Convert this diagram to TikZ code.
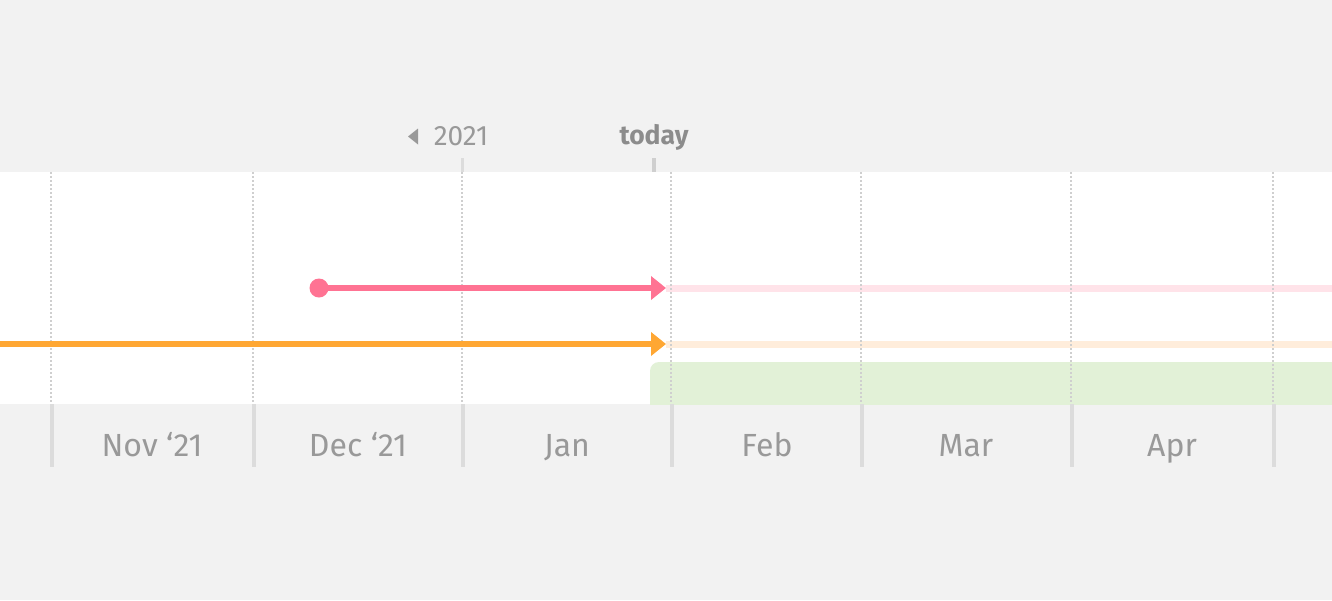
\documentclass[tikz,border=0pt]{standalone}
\usepackage{fontspec}
\setmainfont{Fira Sans}
\usepackage{tikz}
\usetikzlibrary{arrows.meta}
\usetikzlibrary{positioning}
\definecolor{bggrey}{HTML}{F2F2F2}
\definecolor{gridgrey}{HTML}{CFCFCF}
\definecolor{divgrey}{HTML}{DCDCDC}
\definecolor{labelgrey}{HTML}{999999}
\definecolor{todaygrey}{HTML}{8C8C8C}
\definecolor{pinktrack}{HTML}{FF7393}
\definecolor{pinkfade}{HTML}{FFE3E9}
\definecolor{orangetrack}{HTML}{FFA733}
\definecolor{orangefade}{HTML}{FFEDDB}
\definecolor{greenband}{HTML}{E2F1D7}
\tikzset{month/.style={text=labelgrey,anchor=base,font=\fontsize{32}{36}\selectfont}}
\tikzset{toplabel/.style={text=labelgrey,anchor=base,font=\fontsize{28}{32}\selectfont}}

\begin{document}
\begin{tikzpicture}[x=1pt,y=-1pt]
\tikzstyle{gridline} = [draw=gridgrey, line width=1.6pt, dash pattern=on 2pt off 2pt]
\tikzstyle{divider} = [draw=divgrey, line width=3.5pt]
\tikzstyle{track} = [line width=6pt, -{Triangle[length=15pt,width=23pt]}]
\fill[bggrey] (0,0) rectangle (1332,600);
\useasboundingbox (0,0) rectangle (1332,600);
\fill[white] (0,172) rectangle (1332,404);
\begin{scope}
\clip (0,172) rectangle (1332,404);
\fill[greenband, rounded corners=9pt] (650,362) rectangle (1350,430);
\end{scope}

% faded future tracks
\draw[pinkfade, line width=7pt] (666,288) -- (1332,288);
\draw[orangefade, line width=7pt] (666,344) -- (1332,344);

% month grid
\foreach \x in {51,253,462,671,861,1071,1273}{
  \draw[gridline] (\x,172) -- (\x,404);
  \draw[divider] (\x+1,404) -- (\x+1,467);
}
\foreach \x/\m in {152/Nov ‘21,358/Dec ‘21,567/Jan,767/Feb,966/Mar,1172/Apr}
  \node[month] (m\x) at (\x,456) {\m};

% year and today markers
\fill[labelgrey] (408,136.5) -- (418,128.5) -- (418,144.5) -- cycle;
\node[toplabel] (year) at (461,145.5) {2021};
\draw[divgrey, line width=3pt] (462,158) -- (462,172);
\node[toplabel, text=todaygrey, font=\fontsize{26.5}{30}\selectfont\bfseries] (today) at (654,144) {today};
\draw[gridgrey, line width=4pt] (654,158) -- (654,172);

% tracks
\tikzset{spot/.style={circle,fill=pinktrack,inner sep=0pt,minimum size=19pt}}
\node[spot] (start) at (319,288) {};
\coordinate (pinkend) at (666,288);
\draw[track, pinktrack] (start.center) -- (pinkend);
\coordinate (orangestart) at (0,344);
\coordinate (orangeend) at (666,344);
\draw[track, orangetrack] (orangestart) -- (orangeend);
\end{tikzpicture}
\end{document}
